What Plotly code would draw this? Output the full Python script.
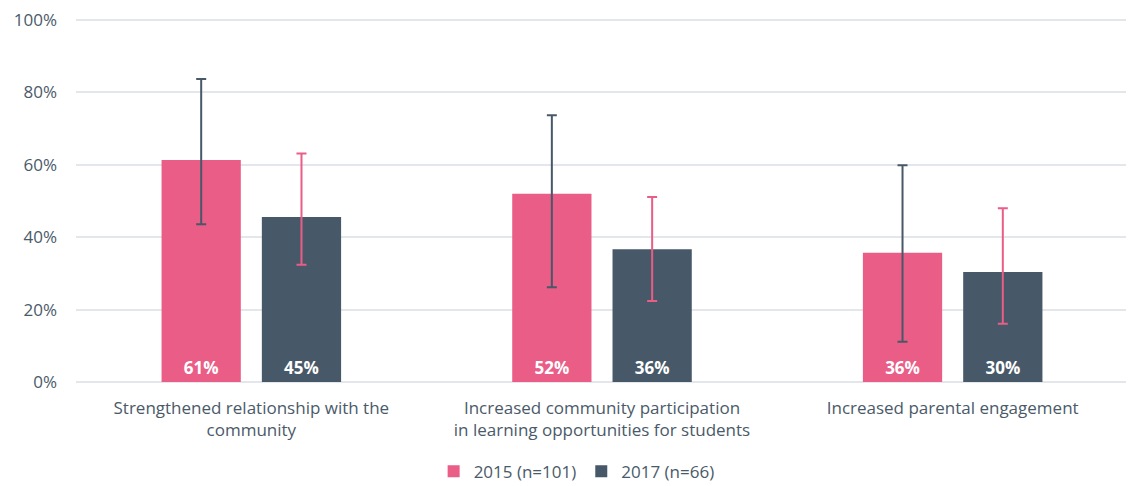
import plotly.graph_objects as go

# data
CATEGORIES :list[str] = [
    "Strengthened relationship with the<br>community",
    "Increased community participation<br>in learning opportunities for students",
    "Increased parental engagement",
]
SERIES_NAMES :list[str] = ["2015 (n=101)", "2017 (n=66)"]

VALUES_2015 :list[float] = [61.3, 52.0, 35.7]
LABELS_2015 :list[str] = ["61%", "52%", "36%"]
UPPER_2015 :list[float] = [83.7, 73.7, 59.9]
LOWER_2015 :list[float] = [43.6, 26.2, 11.1]

VALUES_2017 :list[float] = [45.6, 36.7, 30.4]
LABELS_2017 :list[str] = ["45%", "36%", "30%"]
UPPER_2017 :list[float] = [63.1, 51.1, 48.0]
LOWER_2017 :list[float] = [32.4, 22.4, 16.1]

Y_TICKS :list[int] = [0, 20, 40, 60, 80, 100]
Y_TICK_LABELS :list[str] = ["0%", "20%", "40%", "60%", "80%", "100%"]

# styles
PINK :str = "#E95D87"
SLATE :str = "#475969"
TEXT_COLOR :str = "#4A5A69"
GRID_COLOR :str = "#E3E7EB"
FONT_FAMILY :str = "Open Sans, sans-serif"

BAR_WIDTH :float = 0.226
OFFSET_2015 :float = -0.256
OFFSET_2017 :float = 0.030

# page body has an 8px margin, so the figure is sized to fit inside it
FIG_WIDTH :int = 1126
FIG_HEIGHT :int = 478
Y_RANGE_MAX :float = 100.55  # a hair above 100 so the top gridline and label stay drawn


def build_bar(name, values, labels, upper, lower, color, err_color, offset) -> go.Bar:
    """One series of bars with asymmetric error bars and inside labels."""
    return go.Bar(
        x=CATEGORIES,
        y=values,
        name=name,
        width=BAR_WIDTH,
        offset=offset,
        marker=dict(color=color, line=dict(width=0)),
        text=labels,
        textposition="inside",
        insidetextanchor="start",
        textangle=0,
        textfont=dict(color="white", size=17, family=FONT_FAMILY, weight="bold"),
        error_y=dict(
            type="data",
            symmetric=False,
            array=[u - v for u, v in zip(upper, values)],
            arrayminus=[v - l for v, l in zip(values, lower)],
            color=err_color,
            thickness=2,
            width=5,
        ),
        hoverinfo="skip",
    )


fig = go.Figure()
fig.add_trace(build_bar(SERIES_NAMES[0], VALUES_2015, LABELS_2015, UPPER_2015, LOWER_2015, PINK, SLATE, OFFSET_2015))
fig.add_trace(build_bar(SERIES_NAMES[1], VALUES_2017, LABELS_2017, UPPER_2017, LOWER_2017, SLATE, PINK, OFFSET_2017))

fig.update_layout(
    width=FIG_WIDTH,
    height=FIG_HEIGHT,
    barmode="overlay",
    plot_bgcolor="white",
    paper_bgcolor="white",
    margin=dict(l=68, r=6, t=10, b=104, autoexpand=False),
    font=dict(family=FONT_FAMILY, size=17, color=TEXT_COLOR),
    uniformtext=dict(minsize=10, mode="show"),
    legend=dict(
        orientation="h",
        x=0.505,
        xref="container",
        xanchor="center",
        y=0.03,
        yref="container",
        yanchor="middle",
        font=dict(size=17, color=TEXT_COLOR),
        itemwidth=30,
        traceorder="normal",
    ),
    xaxis=dict(
        showgrid=False,
        showline=False,
        ticks="",
        ticklabelstandoff=14,
        automargin=False,
        tickfont=dict(size=17, color=TEXT_COLOR),
    ),
    yaxis=dict(
        range=[0, Y_RANGE_MAX],
        tickmode="array",
        tickvals=Y_TICKS,
        ticktext=Y_TICK_LABELS,
        showgrid=True,
        gridcolor=GRID_COLOR,
        gridwidth=2,
        zeroline=True,
        zerolinecolor=GRID_COLOR,
        zerolinewidth=2,
        showline=False,
        ticks="",
        ticklabelstandoff=18,
        ticklabeloverflow="allow",
        automargin=False,
        tickfont=dict(size=17, color=TEXT_COLOR),
    ),
)

fig.write_html("out.html")
